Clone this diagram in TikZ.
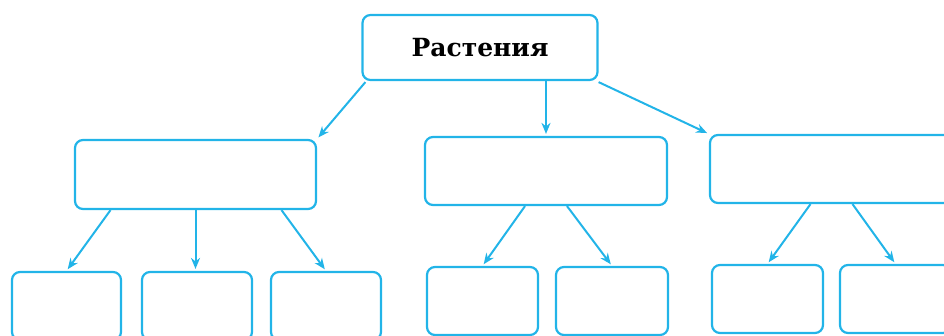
\documentclass[tikz,border=0pt]{standalone}
\usepackage{fontspec}
\newfontfamily\labelfont{DejaVu Serif}
\usetikzlibrary{arrows.meta}
\definecolor{lineblue}{RGB}{34,180,232}
\tikzset{
  box/.style={draw=lineblue, line width=2.2pt, rounded corners=8pt, inner sep=0pt},
  conn/.style={draw=lineblue, line width=2pt, -{Stealth[length=11pt,width=9pt]}, shorten >=2pt}
}
\begin{document}
\begin{tikzpicture}[x=1pt,y=-1pt]
\useasboundingbox (0,0) rectangle (944,335);
\clip (0,0) rectangle (944,335);
\node[box, minimum width=235pt, minimum height=65pt] (top) at (480,47.5)
  {\labelfont\bfseries\fontsize{25}{29}\selectfont Растения};
\node[box, minimum width=241pt, minimum height=69pt] (lm) at (195.5,174.5) {};
\node[box, minimum width=242pt, minimum height=68pt] (mm) at (546,171) {};
\node[box, minimum width=245pt, minimum height=68pt] (rm) at (832.5,169) {};
\node[box, minimum width=109pt, minimum height=68pt] (lb1) at (66.5,306) {};
\node[box, minimum width=110pt, minimum height=68pt] (lb2) at (197,306) {};
\node[box, minimum width=110pt, minimum height=68pt] (lb3) at (326,306) {};
\node[box, minimum width=111pt, minimum height=68pt] (mb1) at (482.5,301) {};
\node[box, minimum width=112pt, minimum height=68pt] (mb2) at (612,301) {};
\node[box, minimum width=111pt, minimum height=68pt] (rb1) at (767.5,299) {};
\node[box, minimum width=111pt, minimum height=68pt] (rb2) at (895.5,299) {};
\draw[conn] ([xshift=4pt,yshift=-1pt]top.south west) -- (lm.north east);
\draw[conn] ([xshift=66pt]top.south) -- ([xshift=66pt]top.south |- mm.north);
\draw[conn] ([yshift=-1pt]top.south east) -- (rm.north west);
\draw[conn] ([xshift=-85pt]lm.south) -- (lb1.north);
\draw[conn] (lm.south) -- (lm.south |- lb2.north);
\draw[conn] ([xshift=86pt]lm.south) -- (lb3.north);
\draw[conn] ([xshift=-21pt]mm.south) -- (mb1.north);
\draw[conn] ([xshift=21pt]mm.south) -- (mb2.north);
\draw[conn] ([xshift=-22pt]rm.south) -- (rb1.north);
\draw[conn] ([xshift=20pt]rm.south) -- (rb2.north);
\end{tikzpicture}
\end{document}
